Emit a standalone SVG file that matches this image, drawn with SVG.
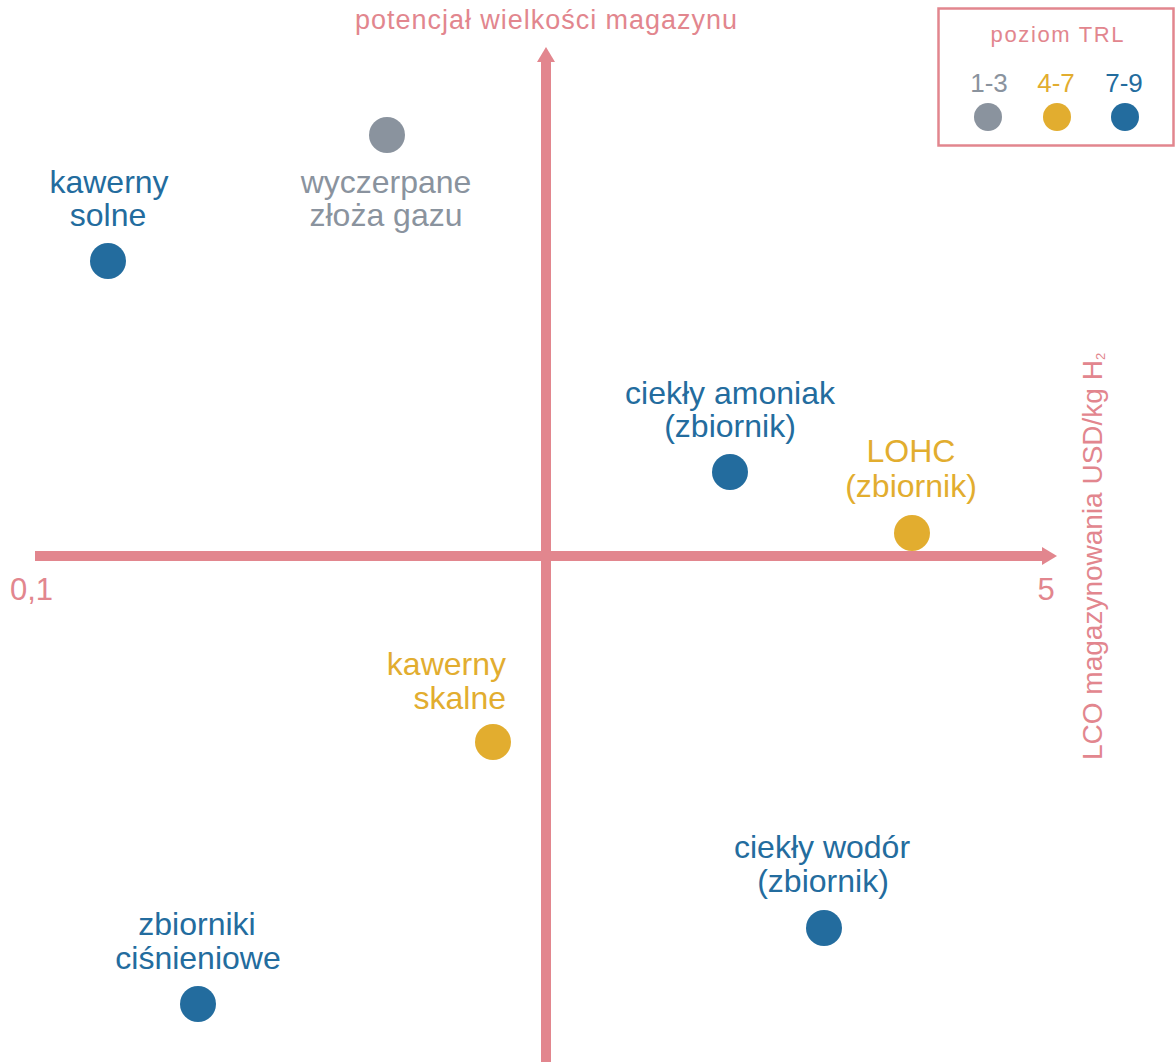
<svg xmlns="http://www.w3.org/2000/svg" width="1175" height="1062" viewBox="0 0 1175 1062">
<style>
text{font-family:"Liberation Sans",Arial,sans-serif}
.lbl{font-size:32px;text-anchor:middle}
.blue{fill:#236c9e}
.gray{fill:#8a939e}
.yel{fill:#e2ad2f}
.pink{fill:#e2868e}
.axis{stroke:#e2868e;stroke-width:10;fill:none}
</style>
<defs>
<marker id="ah" markerUnits="userSpaceOnUse" markerWidth="16" markerHeight="18" refX="0" refY="9" orient="auto" viewBox="0 0 16 18">
<path d="M0,0 L15,9 L0,18 Z" fill="#e2868e"/>
</marker>
</defs>
<rect width="1175" height="1062" fill="#ffffff"/>
<g id="connectors">
<line class="axis" x1="35" y1="556" x2="1042" y2="556" marker-end="url(#ah)"/>
<line class="axis" x1="546" y1="1062" x2="546" y2="62" marker-end="url(#ah)"/>
</g>
<g id="axis-labels">
<text class="pink" x="546" y="29" font-size="27" text-anchor="middle" textLength="382" lengthAdjust="spacing">potencjał wielkości magazynu</text>
<text class="pink" x="10" y="600" font-size="31">0,1</text>
<text class="pink" x="1046" y="600" font-size="31" text-anchor="middle">5</text>
<text class="pink" transform="translate(1102,760) rotate(-90)" font-size="28">LCO magazynowania USD/kg H<tspan font-size="13" dy="3">2</tspan></text>
</g>
<g id="legend">
<rect x="938.5" y="8.5" width="235" height="137" fill="none" stroke="#e2868e" stroke-width="2.5"/>
<text class="pink" x="1057" y="42" font-size="22" text-anchor="middle" textLength="133" lengthAdjust="spacing">poziom TRL</text>
<text class="gray" x="989" y="92" font-size="26" text-anchor="middle">1-3</text>
<text class="yel" x="1056" y="92" font-size="26" text-anchor="middle">4-7</text>
<text class="blue" x="1124" y="92" font-size="26" text-anchor="middle">7-9</text>
<circle class="gray" cx="988" cy="117" r="14"/>
<circle class="yel" cx="1057" cy="117" r="14"/>
<circle class="blue" cx="1125" cy="117" r="14"/>
</g>
<g id="node-kawerny-solne">
<text class="lbl blue" x="109" y="193">kawerny</text>
<text class="lbl blue" x="108" y="226">solne</text>
<circle class="blue" cx="108" cy="261" r="18"/>
</g>
<g id="node-wyczerpane-zloza">
<circle class="gray" cx="387" cy="135" r="18"/>
<text class="lbl gray" x="386" y="193">wyczerpane</text>
<text class="lbl gray" x="386" y="226">złoża gazu</text>
</g>
<g id="node-ciekly-amoniak">
<text class="lbl blue" x="730" y="404">ciekły amoniak</text>
<text class="lbl blue" x="730" y="437">(zbiornik)</text>
<circle class="blue" cx="730" cy="472" r="18"/>
</g>
<g id="node-lohc">
<text class="lbl yel" x="911" y="462">LOHC</text>
<text class="lbl yel" x="911" y="497">(zbiornik)</text>
<circle class="yel" cx="912" cy="533" r="18"/>
</g>
<g id="node-kawerny-skalne">
<text class="yel" x="506" y="675" font-size="32" text-anchor="end">kawerny</text>
<text class="yel" x="506" y="709" font-size="32" text-anchor="end">skalne</text>
<circle class="yel" cx="493" cy="742" r="18"/>
</g>
<g id="node-ciekly-wodor">
<text class="lbl blue" x="822" y="858">ciekły wodór</text>
<text class="lbl blue" x="823" y="892">(zbiornik)</text>
<circle class="blue" cx="824" cy="928" r="18"/>
</g>
<g id="node-zbiorniki-cisnieniowe">
<text class="lbl blue" x="197" y="935">zbiorniki</text>
<text class="lbl blue" x="198" y="969">ciśnieniowe</text>
<circle class="blue" cx="198" cy="1004" r="18"/>
</g>
</svg>
